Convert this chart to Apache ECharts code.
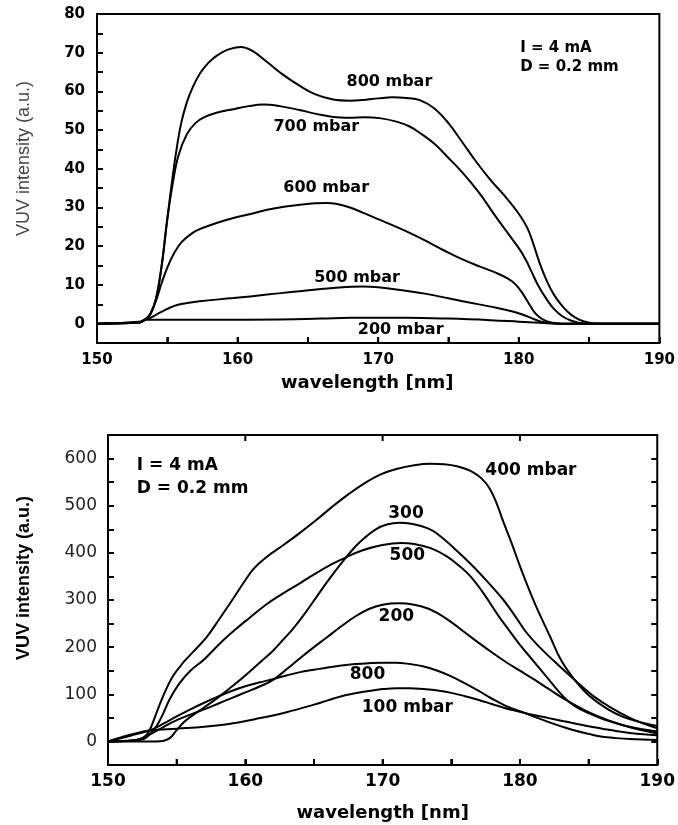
<!DOCTYPE html>
<html>
<head>
<meta charset="utf-8">
<script src="https://cdn.jsdelivr.net/npm/echarts@6/dist/echarts.min.js"></script>
<style>
  html, body { margin: 0; padding: 0; background: #fff; }
  #main { width: 678px; height: 825px; }
</style>
</head>
<body>
<div id="main"></div>
<script>
// top panel: I = 4 mA, spectra at high pressure  [wavelength nm, intensity]
var p800 = [[150,0],[153,0.3],[153.4,1],[153.8,2.5],[154.2,6.5],[154.6,15],[155,27],[155.4,38.5],[155.7,46],[156,52],[156.4,57.3],[156.8,61],[157.3,64.5],[157.9,67.3],[158.5,69.2],[159.3,70.8],[160.2,71.5],[161,70.6],[162.1,67.6],[163.2,64.4],[164.4,61.5],[165.5,59.3],[166.8,57.9],[168,57.6],[169,57.8],[170,58.2],[171,58.5],[172,58.3],[173,57.7],[174,55.6],[175,51.8],[176,46.8],[177,41.7],[178,37.1],[179,33],[180,28.4],[180.6,24.8],[181,21],[181.5,15.5],[182,11],[182.5,7.5],[183,5],[183.5,3],[184,1.6],[184.6,0.6],[185.3,0.1],[186,0],[190,0]];
var p700 = [[150,0],[153,0.3],[153.4,1],[153.8,2.5],[154.2,6.5],[154.6,15],[155,27],[155.4,36.5],[155.8,43.5],[156.4,49],[157,51.8],[157.6,53.3],[158.5,54.5],[159.7,55.4],[160.8,56.2],[161.8,56.6],[163,56.2],[164.4,55.2],[165.6,54.2],[166.8,53.4],[168,53.2],[169,53.3],[170.1,53.1],[171.3,52.2],[172.2,51],[173,49.2],[174,46.5],[174.9,43.2],[176,39],[177.2,33.7],[178.2,28.5],[179.2,23.5],[180.1,19],[180.5,16.5],[180.9,13.5],[181.4,9.7],[182,6.2],[182.5,3.8],[183.1,1.9],[183.7,0.8],[184.3,0.2],[185,0],[190,0]];
var p600 = [[150,0],[153,0.3],[153.4,1],[153.8,2.5],[154.2,6],[154.6,10.5],[155,14.5],[155.5,18.3],[156,21],[156.7,23.2],[157.3,24.4],[158.5,26],[159.7,27.3],[161,28.4],[162.1,29.4],[163.3,30.2],[164.4,30.7],[165.5,31.1],[166.3,31.2],[167,31],[168,30],[168.9,28.7],[170,27],[171.3,25],[172.5,23],[173.7,20.8],[174.8,18.7],[176,16.6],[177.2,14.8],[178.4,13.1],[179.2,11.7],[179.7,10.4],[180.2,8.2],[180.8,4.7],[181.2,2.6],[181.7,1.1],[182.3,0.3],[183,0],[190,0]];
var p500 = [[150,0],[153,0.3],[153.4,1],[153.9,1.7],[154.4,2.7],[155,3.8],[155.5,4.6],[156,5.1],[157.3,5.8],[159.7,6.6],[162.1,7.5],[164.4,8.4],[166.8,9.2],[168.9,9.6],[170,9.4],[171.3,8.8],[173.7,7.5],[176,5.8],[178.4,4.1],[179.5,3.2],[180.3,2.3],[181,1.3],[181.6,0.5],[182.3,0.1],[183,0],[190,0]];
var p200 = [[150,0],[153,0.5],[153.5,1],[158,1],[163,1.1],[166,1.3],[168,1.5],[172,1.5],[175,1.3],[178,0.9],[180,0.5],[182,0.1],[183,0],[190,0]];

// bottom panel: spectra at low pressure
var q400 = [[150,0],[151,0.5],[152,2],[152.6,8],[153,22],[153.5,58],[154,95],[154.7,137],[155.5,168],[156.3,193],[157.2,222],[158,255],[159,298],[160,342],[160.6,366],[161.5,390],[162.7,415],[164,443],[165.1,468],[166.3,497],[167.5,524],[168.7,548],[169.9,567],[171,578],[172.3,586],[173.5,589],[174.5,588],[175.5,583],[176.4,574],[177.2,558],[177.8,536],[178.3,505],[178.8,465],[179.4,420],[180,372],[180.6,327],[181.2,285],[182.2,222],[183,172],[184,130],[185,98],[186.3,70],[187.5,52],[189,39],[190,33]];
var q300 = [[150,0],[153.5,0],[154,1],[154.5,7],[155,24],[155.5,40],[156,52],[157,72],[158,93],[159,116],[160,140],[161,166],[162,192],[162.7,214],[163.5,240],[164.3,270],[165.1,303],[166,340],[167,378],[168,413],[168.7,432],[169.5,450],[170.3,460],[171.2,464],[172.2,461],[173.3,452],[174,440],[175.2,410],[176.4,377],[177.6,340],[178.8,300],[179.6,268],[180.5,230],[181.5,198],[182.5,170],[183.5,143],[184.5,117],[185.4,95],[186.5,74],[188,50],[189,38],[190,28]];
var q500 = [[150,0],[152.5,4],[153,14],[153.5,31],[154,58],[154.5,90],[155.2,123],[156,150],[157,174],[158.3,212],[159.5,243],[160.3,262],[161.5,290],[162.7,313],[164,336],[165.1,356],[166.3,376],[167.3,390],[168.5,405],[169.9,416],[171.3,421],[172.3,419],[173.5,410],[174.7,392],[175.6,372],[176.4,350],[177.4,312],[178.4,268],[179.2,236],[180,205],[181,170],[182,135],[183.2,94],[184,75],[185,60],[186,48],[188,31],[190,21]];
var q200 = [[150,0],[152,3],[153,14],[154,30],[155,45],[156,57],[157,68],[158,80],[159,92],[160,104],[161,116],[162,130],[163,153],[164,177],[165,200],[166,222],[166.8,240],[168,265],[169,281],[170,290],[171.2,293],[172.3,290],[173.3,282],[174,272],[175,253],[176,231],[177,209],[178,188],[179,168],[180,150],[181,132],[182,113],[183.4,87],[185,62],[186.5,44],[188,30],[190,17]];
var q800 = [[150,0],[151,7],[152,15],[153,23],[154,37],[155,53],[156,68],[157,82],[158,95],[159,107],[160,117],[161,125],[162,132],[163,140],[164,147],[165,152],[166,157],[167,161],[168,164],[169,166],[170,167],[171,167],[172,164],[173,159],[174,150],[175,138],[176,123],[177,107],[178,90],[179,75],[180,64],[181,53],[182,42],[183,32],[184,23],[185,16],[186,10],[187,7],[188,5],[190,3]];
var q100 = [[150,0],[151,9],[152,17],[153,23],[155,27],[157,31],[159,38],[161,49],[163,62],[165,78],[166,87],[167,96],[168,102],[169,107],[170,111],[171,113],[172,113],[173,111],[174,108],[175,103],[176,96],[177,88],[178,79],[179,70],[180,63],[181,56],[182,50],[183,44],[184,38],[185,32],[186,27],[187,22],[188,18],[189,15],[190,13]];

// x tick positions (wavelength) on the frame edges
var bottomTicks = [155, 160, 165, 170, 175, 180, 185];
var topEdgeTicks = [160, 170, 180];

// curve labels, anchored in data units
var topNotes = [
    { name: '800 mbar', value: [170.8, 62.5] },
    { name: '700 mbar', value: [165.6, 50.9] },
    { name: '600 mbar', value: [166.3, 35] },
    { name: '500 mbar', value: [168.5, 11.8] },
    { name: '200 mbar', value: [171.6, -1.5] }
];
var topCond = [
    { name: 'I = 4 mA', value: [180.1, 71.2] },
    { name: 'D = 0.2 mm', value: [180.1, 66.3] }
];
var botNotes = [
    { name: '400 mbar', value: [180.8, 574] },
    { name: '300', value: [171.7, 484] },
    { name: '500', value: [171.8, 394] },
    { name: '200', value: [171.0, 264] },
    { name: '800', value: [168.9, 141] },
    { name: '100 mbar', value: [171.8, 71] }
];
var botCond = [
    { name: 'I = 4 mA', value: [152.1, 585] },
    { name: 'D = 0.2 mm', value: [152.1, 536] }
];

var BOLD = 'DejaVu Sans';
var chart = echarts.init(document.getElementById('main'));

function curve(data, idx) {
    return {
        type: 'line',
        xAxisIndex: idx, yAxisIndex: idx,
        data: data,
        showSymbol: false,
        smooth: 0.4,
        lineStyle: { color: '#000', width: 2 },
        silent: true
    };
}

function notes(data, xi, yi, size, align) {
    return {
        type: 'scatter',
        xAxisIndex: xi, yAxisIndex: yi,
        data: data,
        symbolSize: 0,
        silent: true,
        itemStyle: { opacity: 1 },
        label: {
            show: true,
            position: 'inside',
            align: align,
            formatter: '{b}',
            color: '#000',
            fontFamily: BOLD,
            fontWeight: 'bold',
            fontSize: size
        }
    };
}

// short inward ticks on a horizontal edge, placed through the axis scales
function edgeTicks(values, idx, yEdge, dir) {
    return {
        type: 'custom',
        xAxisIndex: idx, yAxisIndex: idx,
        silent: true,
        clip: false,
        z: 10,
        data: values.map(function (v) { return [v, yEdge]; }),
        renderItem: function (params, api) {
            var p = api.coord([api.value(0), api.value(1)]);
            return {
                type: 'line',
                shape: { x1: p[0], y1: p[1], x2: p[0], y2: p[1] - 6 * dir },
                style: { stroke: '#000', lineWidth: 2 }
            };
        }
    };
}

function tick() {
    return { show: true, inside: true, length: 6, lineStyle: { color: '#000', width: 2 } };
}
function edge(on) {
    return { show: on, onZero: false, lineStyle: { color: '#000', width: 2 } };
}
var frame = { show: true, borderColor: '#000', borderWidth: 2 };

var option = {
    animation: false,
    grid: [
        Object.assign({ left: 97, top: 14, width: 563, height: 329 }, frame),
        Object.assign({ left: 108, top: 435, width: 553, height: 330 }, frame)
    ],
    xAxis: [{
        gridIndex: 0, type: 'value', min: 150, max: 190, interval: 5,
        axisLine: edge(true), axisTick: tick(), splitLine: { show: false },
        axisLabel: {
            margin: 10, color: '#000', fontFamily: BOLD, fontWeight: 'bold', fontSize: 15,
            formatter: function (v) { return v % 10 === 0 ? v : ''; }
        },
        name: 'wavelength [nm]', nameLocation: 'middle', nameGap: 31,
        nameTextStyle: { color: '#000', fontFamily: BOLD, fontWeight: 'bold', fontSize: 18, padding: [0, 22, 0, 0] }
    }, {
        gridIndex: 1, type: 'value', min: 150, max: 190, interval: 5,
        axisLine: edge(true), axisTick: tick(), splitLine: { show: false },
        axisLabel: {
            margin: 8, color: '#000', fontFamily: BOLD, fontWeight: 'bold', fontSize: 17,
            formatter: function (v) { return v % 10 === 0 ? v : ''; }
        },
        name: 'wavelength [nm]', nameLocation: 'middle', nameGap: 39,
        nameTextStyle: { color: '#000', fontFamily: BOLD, fontWeight: 'bold', fontSize: 18 }
    }],
    yAxis: [{
        gridIndex: 0, type: 'value', min: -5, max: 80, interval: 5,
        axisLine: edge(false), axisTick: tick(), splitLine: { show: false },
        axisLabel: {
            margin: 12, color: '#000', fontFamily: BOLD, fontWeight: 'bold', fontSize: 15,
            formatter: function (v) { return v % 10 === 0 ? v : ''; }
        },
        name: 'VUV intensity (a.u.)', nameLocation: 'middle', nameGap: 64,
        nameTextStyle: { color: '#444', fontFamily: 'Liberation Sans', fontSize: 18, padding: [0, 0, 0, 40] }
    }, {
        gridIndex: 1, type: 'value', min: -50, max: 650, interval: 50,
        axisLine: edge(false), axisTick: tick(), splitLine: { show: false },
        axisLabel: {
            margin: 11, color: '#222', fontFamily: 'DejaVu Sans', fontSize: 17,
            formatter: function (v) { return v % 100 === 0 ? v : ''; }
        },
        name: 'VUV intensity (a.u.)', nameLocation: 'middle', nameGap: 75,
        nameTextStyle: { color: '#000', fontFamily: 'Liberation Sans', fontWeight: 'bold', fontSize: 18, padding: [0, 0, 0, 44] }
    }, {
        gridIndex: 1, type: 'value', position: 'right', min: -50, max: 650, interval: 50,
        axisLine: edge(false), axisTick: tick(), splitLine: { show: false },
        axisLabel: { show: false }
    }],
    series: [
        curve(p800, 0), curve(p700, 0), curve(p600, 0), curve(p500, 0), curve(p200, 0),
        curve(q400, 1), curve(q300, 1), curve(q500, 1), curve(q200, 1), curve(q800, 1), curve(q100, 1),
        notes(topNotes, 0, 0, 16, 'center'),
        notes(topCond, 0, 0, 15, 'left'),
        notes(botNotes, 1, 1, 17, 'center'),
        notes(botCond, 1, 1, 17, 'left'),
        edgeTicks(bottomTicks, 0, -5, 1),
        edgeTicks(bottomTicks, 1, -50, 1),
        edgeTicks(topEdgeTicks, 1, 650, -1)
    ]
};

chart.setOption(option);
</script>
</body>
</html>
